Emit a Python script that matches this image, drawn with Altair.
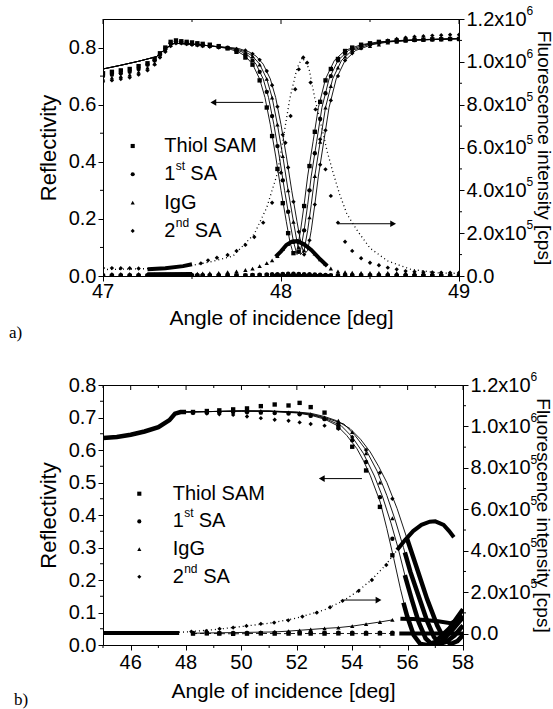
import altair as alt
import pandas as pd

SANS = "Liberation Sans"
SERIF = "Liberation Serif"
SERIES = ["Thiol SAM", "1st SA", "IgG", "2nd SA"]
SHAPES = ["square", "circle", "triangle-up", "diamond"]

# ======================= Panel a (47-49 deg) =======================
A_FIT_VAL = [0.725, 0.738, 0.752, 0.768, 0.800, 0.815, 0.812, 0.806, 0.797, 0.785,
             0.770, 0.742, 0.690, 0.625, 0.530, 0.420, 0.300, 0.190, 0.120, 0.075,
             0.090, 0.160, 0.250, 0.350, 0.470, 0.590, 0.690, 0.755, 0.790, 0.810,
             0.820, 0.826, 0.829, 0.831]
A_FIT1_ANG = [47.00, 47.10, 47.20, 47.30, 47.36, 47.40, 47.50, 47.60, 47.70, 47.76,
              47.80, 47.84, 47.88, 47.91, 47.94, 47.97, 48.00, 48.03, 48.05, 48.07,
              48.09, 48.11, 48.13, 48.15, 48.18, 48.21, 48.25, 48.30, 48.36, 48.45,
              48.55, 48.70, 48.85, 49.00]
A_FIT2_ANG = [47.00, 47.10, 47.20, 47.30, 47.36, 47.40, 47.50, 47.60, 47.72, 47.78,
              47.82, 47.86, 47.90, 47.93, 47.96, 47.99, 48.02, 48.05, 48.07, 48.09,
              48.11, 48.13, 48.15, 48.17, 48.20, 48.23, 48.27, 48.32, 48.38, 48.47,
              48.57, 48.72, 48.87, 49.00]
A_FIT3_ANG = [47.00, 47.10, 47.20, 47.30, 47.36, 47.40, 47.50, 47.60, 47.74, 47.80,
              47.84, 47.88, 47.92, 47.95, 47.98, 48.01, 48.04, 48.07, 48.09, 48.11,
              48.13, 48.15, 48.17, 48.19, 48.22, 48.25, 48.29, 48.34, 48.40, 48.49,
              48.59, 48.74, 48.89, 49.00]
A_FIT4_ANG = [47.00, 47.10, 47.20, 47.30, 47.36, 47.40, 47.50, 47.60, 47.76, 47.82,
              47.86, 47.90, 47.94, 47.97, 48.00, 48.03, 48.06, 48.09, 48.11, 48.13,
              48.15, 48.17, 48.19, 48.21, 48.24, 48.27, 48.31, 48.36, 48.42, 48.51,
              48.61, 48.76, 48.91, 49.00]

A_ANG = [47.00, 47.05, 47.10, 47.15, 47.20, 47.25, 47.29, 47.32, 47.35, 47.38,
         47.41, 47.44, 47.47, 47.50, 47.53, 47.56, 47.60, 47.65, 47.70, 47.75,
         47.80, 47.84, 47.88, 47.92, 47.95, 47.98, 48.01, 48.04, 48.07, 48.10,
         48.13, 48.16, 48.19, 48.22, 48.25, 48.28, 48.32, 48.36, 48.40, 48.45,
         48.50, 48.55, 48.60, 48.65, 48.70, 48.75, 48.80, 48.85, 48.90, 48.95,
         49.00]
A_R_THIOL = [0.710, 0.715, 0.720, 0.725, 0.735, 0.745, 0.760, 0.780, 0.800, 0.820,
             0.825, 0.822, 0.820, 0.818, 0.815, 0.813, 0.810, 0.805, 0.797, 0.785,
             0.765, 0.740, 0.685, 0.590, 0.490, 0.375, 0.255, 0.150, 0.080, 0.120,
             0.245, 0.385, 0.505, 0.610, 0.685, 0.725, 0.760, 0.788, 0.800, 0.810,
             0.815, 0.820, 0.822, 0.824, 0.826, 0.827, 0.828, 0.829, 0.829, 0.830,
             0.830]
A_R_SA1 = [0.700, 0.705, 0.710, 0.715, 0.725, 0.740, 0.755, 0.775, 0.795, 0.815,
           0.822, 0.820, 0.818, 0.815, 0.813, 0.810, 0.807, 0.804, 0.800, 0.790,
           0.775, 0.755, 0.715, 0.645, 0.560, 0.455, 0.335, 0.225, 0.120, 0.085,
           0.160, 0.300, 0.430, 0.550, 0.640, 0.700, 0.755, 0.780, 0.795, 0.806,
           0.812, 0.817, 0.820, 0.823, 0.825, 0.826, 0.827, 0.828, 0.829, 0.830,
           0.830]
A_R_IGG = [0.690, 0.695, 0.700, 0.705, 0.715, 0.730, 0.745, 0.770, 0.790, 0.810,
           0.818, 0.818, 0.815, 0.813, 0.810, 0.808, 0.805, 0.802, 0.800, 0.793,
           0.783, 0.770, 0.740, 0.690, 0.625, 0.530, 0.420, 0.300, 0.190, 0.100,
           0.090, 0.205, 0.350, 0.470, 0.590, 0.665, 0.730, 0.768, 0.790, 0.800,
           0.805, 0.810, 0.817, 0.820, 0.824, 0.826, 0.828, 0.830, 0.832, 0.833,
           0.834]
A_R_SA2 = [0.680, 0.685, 0.690, 0.695, 0.705, 0.720, 0.740, 0.765, 0.785, 0.805,
           0.815, 0.815, 0.812, 0.810, 0.808, 0.805, 0.803, 0.800, 0.798, 0.795,
           0.790, 0.778, 0.757, 0.718, 0.668, 0.593, 0.495, 0.380, 0.260, 0.155,
           0.075, 0.125, 0.250, 0.390, 0.510, 0.615, 0.700, 0.755, 0.780, 0.797,
           0.807, 0.815, 0.825, 0.830, 0.835, 0.838, 0.840, 0.842, 0.843, 0.845,
           0.845]

A_F_THIOL = [0, 0, 0, 0, 0, 0, 0, 0, 0, 0,
             0, 0, 0, 0, 0, 0, 0, 0, 0, 1e3,
             1e3, 2e3, 2e3, 3e3, 3e3, 4e3, 5e3, 5e3, 5e3, 5e3,
             4e3, 3e3, 2e3, 1e3, 0, 0, 0, 0, 0, 0,
             0, 0, 0, 0, 0, 0, 0, 0, 0, 0,
             0]
A_F_SA1 = [4e3, 4e3, 4e3, 4e3, 4e3, 4e3, 4e3, 4e3, 4e3, 4e3,
           4e3, 4e3, 4e3, 4e3, 4e3, 4e3, 4e3, 4e3, 4e3, 4e3,
           4e3, 5e3, 6e3, 7e3, 8e3, 9e3, 1.0e4, 1.1e4, 1.1e4, 1.0e4,
           9e3, 8e3, 7e3, 6e3, 5e3, 4e3, 4e3, 4e3, 4e3, 4e3,
           4e3, 4e3, 4e3, 4e3, 4e3, 4e3, 4e3, 4e3, 4e3, 4e3,
           4e3]
A_F_IGG = [1.0e4, 1.0e4, 1.0e4, 1.0e4, 1.0e4, 0.9e4, 0.8e4, 0.8e4, 0.8e4, 0.8e4,
           0.8e4, 0.85e4, 0.9e4, 0.9e4, 1.1e4, 1.2e4, 1.3e4, 1.5e4, 1.8e4, 2.2e4,
           2.8e4, 3.4e4, 4.6e4, 6.0e4, 7.3e4, 9.3e4, 1.25e5, 1.5e5, 1.6e5, 1.62e5,
           1.48e5, 1.3e5, 1.05e5, 7.8e4, 5.5e4, 3.5e4, 2.2e4, 1.8e4, 1.6e4, 1.5e4,
           1.5e4, 1.5e4, 1.5e4, 1.4e4, 1.4e4, 1.4e4, 1.4e4, 1.3e4, 1.3e4, 1.3e4,
           1.3e4]
A_F_SA2_ANG = [47.00, 47.05, 47.10, 47.15, 47.20, 47.55, 47.59, 47.64, 47.70, 47.75,
               47.80, 47.85, 47.90, 47.95, 48.00, 48.025, 48.054, 48.08, 48.10, 48.125,
               48.147, 48.166, 48.194, 48.22, 48.25, 48.28, 48.32, 48.36, 48.40, 48.45,
               48.50, 48.55, 48.60, 48.65, 48.70, 48.75, 48.80, 48.85, 48.90, 48.95,
               49.00]
A_F_SA2 = [3.7e4, 3.7e4, 3.6e4, 3.6e4, 3.5e4, 5.9e4, 7.3e4, 8.5e4, 9.8e4, 1.17e5,
           1.45e5, 1.82e5, 2.49e5, 3.42e5, 4.82e5, 6.22e5, 7.47e5, 8.72e5, 9.65e5, 1.02e6,
           9.96e5, 9.03e5, 7.78e5, 6.38e5, 4.98e5, 3.74e5, 2.49e5, 1.6e5, 1.17e5, 8.3e4,
           6.2e4, 5.0e4, 3.9e4, 3.1e4, 2.3e4, 2.0e4, 1.8e4, 1.7e4, 1.6e4, 1.5e4,
           1.5e4]
A_F_FIT_ANG = [47.00, 47.30, 47.50, 47.60, 47.73, 47.85, 47.92, 47.98, 48.016, 48.05,
               48.09, 48.12, 48.157, 48.19, 48.23, 48.26, 48.29, 48.33, 48.37, 48.43,
               48.50, 48.60, 48.73, 48.88, 49.00]
A_F_FIT = [3.0e4, 3.5e4, 5.0e4, 6.5e4, 9.3e4, 1.96e5, 3.2e5, 4.8e5, 6.6e5, 8.3e5,
           9.7e5, 1.02e6, 9.7e5, 8.3e5, 6.9e5, 5.8e5, 4.9e5, 3.8e5, 2.9e5, 2.1e5,
           1.3e5, 7e4, 3.1e4, 1.5e4, 1.2e4]
# densely sampled scan stretches (drawn as heavy strokes)
A_DENSE_SA2_ANG = [47.25, 47.35, 47.45, 47.50]
A_DENSE_SA2 = [3.1e4, 3.6e4, 4.6e4, 5.5e4]
A_DENSE_IGG1_ANG = [47.25, 47.50]
A_DENSE_IGG1 = [8e3, 9e3]
A_DENSE_IGG2_ANG = [47.97, 48.00, 48.03, 48.06, 48.09, 48.13, 48.17, 48.22, 48.26]
A_DENSE_IGG2 = [9e4, 1.15e5, 1.45e5, 1.6e5, 1.63e5, 1.48e5, 1.22e5, 7.8e4, 4.7e4]
A_DENSE_BASE1_ANG = [47.25, 47.50]
A_DENSE_BASE1 = [0, 0]
A_DENSE_BASE2_ANG = [47.95, 48.27]
A_DENSE_BASE2 = [0, 0]
A_ARROW_L = ([47.90], [47.62], [0.608])
A_ARROW_R = ([48.32], [48.63], [2.44e5])

# ======================= Panel b (45-58 deg) =======================
B_FIT1_ANG = [45.0, 46.0, 46.5, 47.0, 47.4, 47.7, 48.0, 50.0, 51.0, 52.0, 52.5, 53.0, 53.44, 53.8,
              54.17, 54.4, 54.65, 55.01, 55.25, 55.50, 55.74, 55.98, 56.22, 56.46, 56.70, 57.00,
              57.50, 58.00]
B_FIT1 = [0.635, 0.645, 0.655, 0.668, 0.690, 0.713, 0.717, 0.720, 0.719, 0.714, 0.707, 0.695, 0.676,
          0.645, 0.604, 0.568, 0.522, 0.440, 0.358, 0.266, 0.173, 0.090, 0.030, 0.003, 0.0, 0.010,
          0.050, 0.110]
B_FIT2_ANG = [45.0, 46.0, 46.5, 47.0, 47.4, 47.7, 48.0, 50.0, 51.0, 52.0, 52.5, 53.0, 53.6, 54.0,
              54.4, 54.8, 55.1, 55.4, 55.65, 55.9, 56.15, 56.4, 56.65, 56.9, 57.2, 57.6, 58.0]
B_FIT2 = [0.635, 0.645, 0.655, 0.668, 0.690, 0.713, 0.717, 0.720, 0.719, 0.715, 0.709, 0.698, 0.675,
          0.640, 0.590, 0.520, 0.455, 0.375, 0.300, 0.215, 0.140, 0.070, 0.020, 0.0, 0.010, 0.045,
          0.085]
B_FIT3_ANG = [45.0, 46.0, 46.5, 47.0, 47.4, 47.7, 48.0, 50.0, 51.0, 52.0, 52.5, 53.0, 53.7, 54.1,
              54.5, 54.9, 55.25, 55.55, 55.85, 56.1, 56.4, 56.7, 56.95, 57.15, 57.4, 57.7, 58.0]
B_FIT3 = [0.635, 0.645, 0.655, 0.668, 0.690, 0.713, 0.717, 0.720, 0.720, 0.716, 0.711, 0.700, 0.680,
          0.645, 0.600, 0.535, 0.460, 0.385, 0.300, 0.225, 0.150, 0.075, 0.025, 0.003, 0.010, 0.030,
          0.060]
B_FIT4_ANG = [45.0, 46.0, 46.5, 47.0, 47.4, 47.7, 48.0, 50.0, 51.0, 52.0, 52.5, 53.0, 53.44, 53.92,
              54.3, 54.65, 54.95, 55.25, 55.62, 55.98, 56.34, 56.70, 57.07, 57.31, 57.55, 57.8, 58.0]
B_FIT4 = [0.635, 0.645, 0.655, 0.668, 0.690, 0.713, 0.717, 0.720, 0.720, 0.717, 0.713, 0.703, 0.690,
          0.666, 0.633, 0.594, 0.550, 0.500, 0.420, 0.327, 0.235, 0.142, 0.060, 0.020, 0.003, 0.012,
          0.030]

B_ANG = [48.25, 48.75, 49.2, 49.7, 50.2, 50.7, 51.2, 51.7, 52.1, 52.5, 53.0, 53.5, 54.0, 54.5, 55.0, 55.45]
B_R_THIOL = [0.717, 0.720, 0.722, 0.725, 0.728, 0.735, 0.740, 0.737, 0.745, 0.732, 0.715, 0.670, 0.610,
             0.537, 0.425, 0.276]
B_R_SA1 = [0.715, 0.715, 0.716, 0.717, 0.716, 0.715, 0.714, 0.712, 0.710, 0.705, 0.695, 0.680, 0.630,
           0.563, 0.455, 0.327]
B_R_IGG = [0.716, 0.717, 0.718, 0.719, 0.720, 0.720, 0.718, 0.716, 0.714, 0.710, 0.700, 0.690, 0.655,
           0.590, 0.500, 0.390]
B_R_SA2 = [0.714, 0.712, 0.710, 0.708, 0.703, 0.698, 0.693, 0.690, 0.685, 0.680, 0.675, 0.665, 0.640,
           0.600, 0.530, 0.450]
B_DENSE_R0_ANG = [45.0, 45.5, 46.0, 46.5, 47.0, 47.4, 47.6, 47.8, 48.0]
B_DENSE_R0 = [0.637, 0.640, 0.647, 0.657, 0.670, 0.692, 0.712, 0.717, 0.717]
B_DENSE_R1_ANG = [55.85, 55.98, 56.22, 56.46, 56.70, 57.00, 57.50, 58.00]
B_DENSE_R1 = [0.130, 0.090, 0.030, 0.003, 0.0, 0.010, 0.050, 0.110]
B_DENSE_R2_ANG = [55.9, 56.15, 56.4, 56.65, 56.9, 57.2, 57.6, 58.0]
B_DENSE_R2 = [0.215, 0.140, 0.070, 0.020, 0.0, 0.010, 0.045, 0.085]
B_DENSE_R3_ANG = [55.9, 56.1, 56.4, 56.7, 56.95, 57.15, 57.4, 57.7, 58.0]
B_DENSE_R3 = [0.285, 0.225, 0.150, 0.075, 0.025, 0.003, 0.010, 0.030, 0.060]
B_DENSE_R4_ANG = [55.98, 56.34, 56.70, 57.07, 57.31, 57.55, 57.8, 58.0]
B_DENSE_R4 = [0.327, 0.235, 0.142, 0.060, 0.020, 0.003, 0.012, 0.030]

B_F_THIOL = [0, 1e3, 0, -1e3, 0, 1e3, 0, 0, 1e3, 0, 0, 1e3, 0, 0, 1e3, 0]
B_F_SA1 = [3e3, 3e3, 3e3, 3e3, 3e3, 3e3, 4e3, 4e3, 4e3, 4e3, 4e3, 4e3, 4e3, 4e3, 4e3, 4e3]
B_F_IGG = [2e3, 3e3, 4e3, 5e3, 6e3, 7e3, 8e3, 1.2e4, 1.6e4, 2.0e4, 2.5e4, 2.9e4, 3.6e4, 4.6e4, 5.6e4, 6.6e4]
B_F_SA2_ANG = [48.19, 48.73, 49.21, 49.70, 50.18, 50.70, 51.18, 51.69, 52.20, 52.72, 53.20, 53.65,
               54.23, 54.71, 55.23]
B_F_SA2 = [0.96e4, 1.3e4, 2.3e4, 2.9e4, 3.7e4, 4.7e4, 5.3e4, 6.4e4, 8.2e4, 1.01e5, 1.27e5, 1.58e5,
           2.06e5, 2.59e5, 3.31e5]
B_F_FIT_ANG = [45.0, 46.5, 48.0, 49.0, 50.0, 51.0, 52.0, 53.0, 53.7, 54.2, 54.7, 55.2, 55.62]
B_F_FIT = [0, 2e3, 8e3, 1.9e4, 3.4e4, 5.0e4, 7.5e4, 1.15e5, 1.6e5, 2.05e5, 2.6e5, 3.3e5, 4.03e5]
B_DENSE_F0_ANG = [45.0, 47.75]
B_DENSE_F0 = [3e3, 3e3]
B_DENSE_FSA2_ANG = [55.62, 55.9, 56.2, 56.5, 56.8, 57.0, 57.3, 57.5, 57.67]
B_DENSE_FSA2 = [4.03e5, 4.5e5, 4.95e5, 5.25e5, 5.4e5, 5.42e5, 5.25e5, 4.95e5, 4.65e5]
B_DENSE_FIGG_ANG = [55.74, 56.2, 56.6, 57.1, 57.55, 57.8, 58.0]
B_DENSE_FIGG = [7.2e4, 7.0e4, 6.6e4, 6.0e4, 5.0e4, 6.5e4, 8.5e4]
B_DENSE_FBASE_ANG = [55.7, 58.0]
B_DENSE_FBASE = [0, 0]
B_ARROW_L = ([54.35], [52.90], [0.512])
B_ARROW_R = ([53.68], [54.95], [1.62e5])

# tick values
A_XTICKS = [47, 48, 49]
A_XMINOR = [47.5, 48.5]
A_LTICKS = [0.0, 0.2, 0.4, 0.6, 0.8]
A_LMINOR = [0.1, 0.3, 0.5, 0.7]
B_XTICKS = [46, 48, 50, 52, 54, 56, 58]
B_XMINOR = [45, 47, 49, 51, 53, 55, 57]
B_LTICKS = [0.0, 0.1, 0.2, 0.3, 0.4, 0.5, 0.6, 0.7, 0.8]
B_LMINOR = [0.05, 0.15, 0.25, 0.35, 0.45, 0.55, 0.65, 0.75]
FL_TICKS = [0, 2e5, 4e5, 6e5, 8e5, 1e6, 1.2e6]
FL_MINOR = [1e5, 3e5, 5e5, 7e5, 9e5, 1.1e6]
FL_EXP = ["", "5", "5", "5", "5", "6", "6"]


def tidy(items):
    rows = []
    for name, xs, ys in items:
        assert len(xs) == len(ys), name
        rows += [{"s": name, "x": a, "y": b} for a, b in zip(xs, ys)]
    return pd.DataFrame(rows, columns=["s", "x", "y"])


def build_panel(p):
    W, H = p["W"], p["H"]
    xsc = alt.Scale(domain=p["xdom"], nice=False, zero=False)
    xax = alt.Axis(values=p["xticks"], labels=False, title="Angle of incidence [deg]",
                   titleFontSize=21, titlePadding=p["xtp"])
    lsc = alt.Scale(domain=p["ldom"], nice=False, zero=False)
    lax = alt.Axis(values=p["lticks"], format=".1f", title="Reflectivity", orient="left",
                   titleFontSize=22, titlePadding=8, labelOverlap=False)
    rsc = alt.Scale(domain=p["rdom"], nice=False, zero=False)
    rax = alt.Axis(values=FL_TICKS, orient="right", title="Fluorescence intensity [cps]",
                   titleFontSize=19, titlePadding=p["rtp"], labelOverlap=False,
                   labelExpr="datum.value == 0 ? '0.0' : (datum.value >= 1000000 ? "
                             "format(datum.value / 1000000, '.1f') : format(datum.value / 100000, '.1f')) + 'x10'")

    def X(f="x"):
        return alt.X(f + ":Q", scale=xsc, axis=xax)

    def LY(f="y"):
        return alt.Y(f + ":Q", scale=lsc, axis=lax)

    def RY(f="y"):
        return alt.Y(f + ":Q", scale=rsc, axis=rax)

    shape = alt.Shape("s:N", scale=alt.Scale(domain=SERIES, range=SHAPES), legend=None)

    def lines(df, Y, **kw):
        return alt.Chart(df).mark_line(color="black", clip=True, **kw).encode(x=X(), y=Y(), detail="s:N")

    def points(df, Y):
        return alt.Chart(df).mark_point(filled=True, color="black", opacity=1, size=19, clip=True).encode(
            x=X(), y=Y(), shape=shape)

    def arrow(a, Y, head):
        df = pd.DataFrame({"x": a[0], "x2": a[1], "y": a[2]})
        rule = alt.Chart(df).mark_rule(color="black", strokeWidth=1).encode(x=X(), x2="x2:Q", y=Y())
        tip = alt.Chart(df).mark_point(shape=head, filled=True, color="black", opacity=1, size=45).encode(
            x=X("x2"), y=Y())
        return [rule, tip]

    def xtick_marks(vals, y0, y1):
        return alt.Chart(pd.DataFrame({"v": vals})).mark_rule(color="black", strokeWidth=1).encode(
            x=X("v"), y=alt.value(y0), y2=alt.value(y1))

    def ytick_marks(vals, Y, x0, x1):
        return alt.Chart(pd.DataFrame({"v": vals})).mark_rule(color="black", strokeWidth=1).encode(
            y=Y("v"), x=alt.value(x0), x2=alt.value(x1))

    one = pd.DataFrame({"k": [0]})
    legend = []
    for i, (name, shp) in enumerate(zip(SERIES, SHAPES)):
        yy = p["leg_y0"] + i * p["leg_dy"]
        tx = p["leg_tx"]
        legend.append(alt.Chart(one).mark_point(shape=shp, filled=True, color="black", opacity=1, size=17)
                      .encode(x=alt.value(p["leg_mx"]), y=alt.value(yy)))
        tstyle = dict(font=SANS, fontSize=20, align="left", baseline="middle", color="black")
        if name in ("1st SA", "2nd SA"):
            num, sup = name[0], name[1:3]
            legend.append(alt.Chart(one).mark_text(text=num, **tstyle).encode(x=alt.value(tx), y=alt.value(yy)))
            legend.append(alt.Chart(one).mark_text(text=sup, font=SANS, fontSize=12, align="left",
                                                   baseline="middle", color="black", dy=-8)
                          .encode(x=alt.value(tx + 11.5), y=alt.value(yy)))
            off = 26 if name == "1st SA" else 30.5
            legend.append(alt.Chart(one).mark_text(text="SA", **tstyle).encode(x=alt.value(tx + off), y=alt.value(yy)))
        else:
            legend.append(alt.Chart(one).mark_text(text=name, **tstyle).encode(x=alt.value(tx), y=alt.value(yy)))

    tag = alt.Chart(one).mark_text(text=p["tag"], font=SERIF, fontSize=17, align="left", baseline="middle",
                                   color="black").encode(x=alt.value(p["tag_x"]), y=alt.value(H + p["tag_dy"]))

    # x tick labels as text on the x scale
    xlab_df = pd.DataFrame({"v": p["xticks"], "t": [str(v) for v in p["xticks"]]})
    xlabels = alt.Chart(xlab_df).mark_text(font=SANS, fontSize=20, align="center", baseline="top",
                                           color="black").encode(
        x=X("v"), y=alt.value(H + p["xlab_dy"]), text="t:N")

    ticks = [xtick_marks(p["xminor"], H, H + 3),
             xtick_marks(p["xticks"], 0, 5),
             xtick_marks(p["xminor"], 0, 3),
             ytick_marks(p["lminor"], LY, -3, 0)]

    left_layers = [lines(p["fit"], LY, strokeWidth=0.9)]
    if len(p["rdense"]):
        left_layers.append(lines(p["rdense"], LY, strokeWidth=4.5))
    left_layers += [points(p["rpts"], LY)] + arrow(p["arrow_l"], LY, "triangle-left") + legend + [
        tag, xlabels] + ticks
    right_layers = [lines(p["ffit"], RY, strokeWidth=1.3, strokeDash=[1, 3])]
    if p.get("fsolid") is not None:
        right_layers.append(lines(p["fsolid"], RY, strokeWidth=0.9))
    if p.get("fdash") is not None:
        right_layers.append(lines(p["fdash"], RY, strokeWidth=0.9, strokeDash=[4, 3]))
    exp_df = pd.DataFrame({"v": FL_TICKS, "e": FL_EXP})
    right_layers += [lines(p["fdense"], RY, strokeWidth=4),
                     points(p["fpts"], RY)] + arrow(p["arrow_r"], RY, "triangle-right") + [
        ytick_marks(FL_MINOR, RY, W, W + 3),
        alt.Chart(exp_df).mark_text(font=SANS, fontSize=12, align="left", baseline="middle", color="black",
                                    dy=-8).encode(x=alt.value(W + 67.5), y=RY("v"), text="e:N")]

    return alt.layer(alt.layer(*left_layers), alt.layer(*right_layers)).resolve_scale(
        y="independent").properties(width=W, height=H)


pa = dict(
    W=356, H=257, xdom=[47, 49], xticks=A_XTICKS, xminor=A_XMINOR, ldom=[0, 0.9], lticks=A_LTICKS,
    lminor=A_LMINOR, rdom=[0, 1.2e6], xtp=26, xlab_dy=6, rtp=7,
    fit=tidy([("Thiol SAM", A_FIT1_ANG, A_FIT_VAL), ("1st SA", A_FIT2_ANG, A_FIT_VAL),
              ("IgG", A_FIT3_ANG, A_FIT_VAL), ("2nd SA", A_FIT4_ANG, A_FIT_VAL)]),
    rdense=tidy([]),
    rpts=tidy([("Thiol SAM", A_ANG, A_R_THIOL), ("1st SA", A_ANG, A_R_SA1),
               ("IgG", A_ANG, A_R_IGG), ("2nd SA", A_ANG, A_R_SA2)]),
    ffit=tidy([("2nd SA", A_F_FIT_ANG, A_F_FIT)]),
    fdense=tidy([("d1", A_DENSE_SA2_ANG, A_DENSE_SA2), ("d2", A_DENSE_IGG1_ANG, A_DENSE_IGG1),
                 ("d3", A_DENSE_IGG2_ANG, A_DENSE_IGG2), ("d4", A_DENSE_BASE1_ANG, A_DENSE_BASE1),
                 ("d5", A_DENSE_BASE2_ANG, A_DENSE_BASE2)]),
    fpts=tidy([("Thiol SAM", A_ANG, A_F_THIOL), ("1st SA", A_ANG, A_F_SA1),
               ("IgG", A_ANG, A_F_IGG), ("2nd SA", A_F_SA2_ANG, A_F_SA2)]),
    arrow_l=A_ARROW_L, arrow_r=A_ARROW_R,
    leg_mx=29.7, leg_tx=61.3, leg_y0=127, leg_dy=28.3, tag="a)", tag_x=-94, tag_dy=57,
)

pb = dict(
    W=360, H=260, xdom=[45, 58], xticks=B_XTICKS, xminor=B_XMINOR, ldom=[0, 0.8], lticks=B_LTICKS,
    lminor=B_LMINOR, rdom=[-55000, 1.2e6], xtp=30, xlab_dy=8, rtp=2,
    fit=tidy([("Thiol SAM", B_FIT1_ANG, B_FIT1), ("1st SA", B_FIT2_ANG, B_FIT2),
              ("IgG", B_FIT3_ANG, B_FIT3), ("2nd SA", B_FIT4_ANG, B_FIT4)]),
    rdense=tidy([("d0", B_DENSE_R0_ANG, B_DENSE_R0), ("d1", B_DENSE_R1_ANG, B_DENSE_R1),
                 ("d2", B_DENSE_R2_ANG, B_DENSE_R2), ("d3", B_DENSE_R3_ANG, B_DENSE_R3),
                 ("d4", B_DENSE_R4_ANG, B_DENSE_R4)]),
    rpts=tidy([("Thiol SAM", B_ANG, B_R_THIOL), ("1st SA", B_ANG, B_R_SA1),
               ("IgG", B_ANG, B_R_IGG), ("2nd SA", B_ANG, B_R_SA2)]),
    ffit=tidy([("2nd SA", B_F_FIT_ANG, B_F_FIT)]),
    fsolid=tidy([("IgG", B_ANG, B_F_IGG)]),
    fdash=tidy([("Thiol SAM", B_ANG, B_F_THIOL)]),
    fdense=tidy([("d0", B_DENSE_F0_ANG, B_DENSE_F0), ("d1", B_DENSE_FSA2_ANG, B_DENSE_FSA2),
                 ("d2", B_DENSE_FIGG_ANG, B_DENSE_FIGG), ("d3", B_DENSE_FBASE_ANG, B_DENSE_FBASE)]),
    fpts=tidy([("Thiol SAM", B_ANG, B_F_THIOL), ("1st SA", B_ANG, B_F_SA1),
               ("IgG", B_ANG, B_F_IGG), ("2nd SA", B_F_SA2_ANG, B_F_SA2)]),
    arrow_l=B_ARROW_L, arrow_r=B_ARROW_R,
    leg_mx=36.3, leg_tx=69.7, leg_y0=108.7, leg_dy=27.7, tag="b)", tag_x=-89, tag_dy=55,
)

chart = alt.concat(build_panel(pa), build_panel(pb), columns=1, spacing=28, align="none").properties(
    padding={"left": 8, "top": 4, "right": 0, "bottom": 4},
    background="white",
).configure_view(stroke="black", strokeWidth=1).configure_axis(
    labelFont=SANS, titleFont=SANS, labelFontSize=20, titleFontWeight="normal",
    labelColor="black", titleColor="black", domainColor="black", tickColor="black",
    tickSize=5, labelPadding=2, grid=False, domainWidth=1, tickWidth=1,
)

chart.save("out.html", embed_options={"renderer": "svg", "actions": False})
